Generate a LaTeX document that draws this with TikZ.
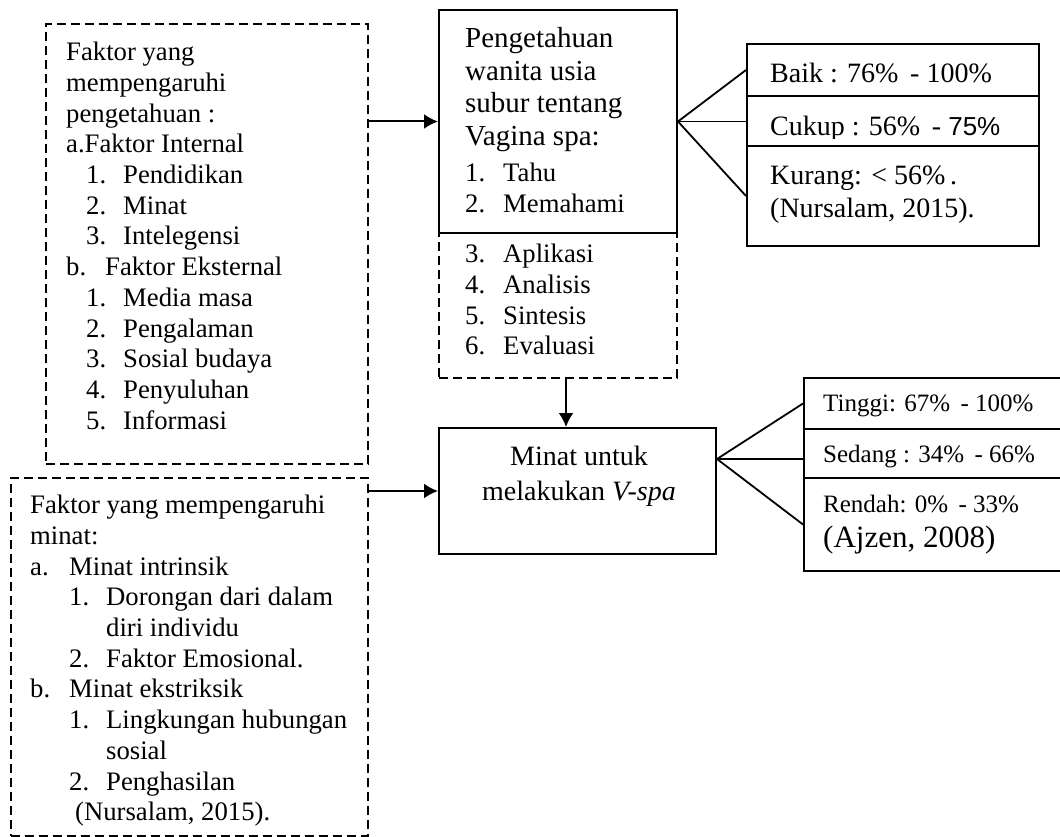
\documentclass[tikz,border=0pt]{standalone}
\usepackage{fontspec}
\setmainfont{Liberation Serif}
\newfontfamily\sansfnt{Liberation Sans}
\usetikzlibrary{arrows.meta}

% list line: indent, label width, label
\newcommand{\lst}[3]{\hspace*{#1}\makebox[#2][l]{#3}}

\begin{document}
\begin{tikzpicture}[x=1pt, y=-1pt,
    box/.style={draw, line width=2pt, anchor=north west, inner sep=0pt},
    dashbox/.style={box, dash pattern=on 9pt off 5pt},
    txt/.style={anchor=north west, inner sep=0pt, align=left, font=\fontsize{26.7}{30.7}\selectfont},
    head/.style={txt, font=\fontsize{29}{32.7}\selectfont},
    mid/.style={txt, font=\fontsize{28}{33}\selectfont},
    small/.style={txt, font=\fontsize{25}{28}\selectfont},
    arr/.style={line width=2pt, -{Latex[length=14pt, width=15pt]}},
    fan/.style={line width=1.8pt}]

    \useasboundingbox (0,0) rectangle (1060,837);

    % Left column: the two dashed boxes of factors
    \node[dashbox, minimum width=322pt, minimum height=440pt] (fbox) at (45,23) {};
    \node[dashbox, minimum width=357pt, minimum height=358pt] (mbox) at (10,477) {};

    % Middle column
    \node[dashbox, minimum width=238pt, minimum height=145pt] (tbox) at (438,232) {};
    \node[box, minimum width=238pt, minimum height=223pt] (pbox) at (438,9) {};
    \node[box, minimum width=277pt, minimum height=126pt] (ibox) at (438,427) {};

    % Right column: the two category boxes
    \node[box, minimum width=292pt, minimum height=52pt] (baik) at (746,43) {};
    \node[box, minimum width=292pt, minimum height=50pt] (cukup) at (746,95) {};
    \node[box, minimum width=292pt, minimum height=100pt] (kurang) at (746,145) {};
    \node[box, minimum width=265pt, minimum height=51pt] (tinggi) at (803,377) {};
    \node[box, minimum width=265pt, minimum height=49pt] (sedang) at (803,428) {};
    \node[box, minimum width=265pt, minimum height=93pt] (rendah) at (803,477) {};

    % Texts of the left boxes
    \node[txt] (ftext) at (66,42) {Faktor yang\\
        mempengaruhi\\
        pengetahuan :\\
        a.Faktor Internal\\
        \lst{20pt}{37pt}{1.}Pendidikan\\
        \lst{20pt}{37pt}{2.}Minat\\
        \lst{20pt}{37pt}{3.}Intelegensi\\
        \lst{0pt}{39pt}{b.}Faktor Eksternal\\
        \lst{20pt}{37pt}{1.}Media masa\\
        \lst{20pt}{37pt}{2.}Pengalaman\\
        \lst{20pt}{37pt}{3.}Sosial budaya\\
        \lst{20pt}{37pt}{4.}Penyuluhan\\
        \lst{20pt}{37pt}{5.}Informasi};
    \node[txt] (mtext) at (30,495) {Faktor yang mempengaruhi\\
        minat:\\
        \lst{0pt}{39pt}{a.}Minat intrinsik\\
        \lst{39pt}{37pt}{1.}Dorongan dari dalam\\
        \hspace*{76pt}diri individu\\
        \lst{39pt}{37pt}{2.}Faktor Emosional.\\
        \lst{0pt}{39pt}{b.}Minat ekstriksik\\
        \lst{39pt}{37pt}{1.}Lingkungan hubungan\\
        \hspace*{76pt}sosial\\
        \lst{39pt}{37pt}{2.}Penghasilan\\
        \hspace*{45pt}(Nursalam, 2015).};

    % Texts of the middle boxes
    \node[head] (ptext) at (465,27) {Pengetahuan\\
        wanita usia\\
        subur tentang\\
        Vagina spa:};
    \node[txt] (plist) at (465,163) {\lst{0pt}{38pt}{1.}Tahu\\
        \lst{0pt}{38pt}{2.}Memahami};
    \node[txt] (tlist) at (465,244) {\lst{0pt}{38pt}{3.}Aplikasi\\
        \lst{0pt}{38pt}{4.}Analisis\\
        \lst{0pt}{38pt}{5.}Sintesis\\
        \lst{0pt}{38pt}{6.}Evaluasi};
    \node[txt, anchor=north, align=center, font=\fontsize{28}{35}\selectfont] (itext) at (579,446)
        {Minat untuk\\ melakukan \textit{V-spa}};

    % Texts of the category boxes
    \node[mid] (btext) at (770,63) {Baik : 76\% \,- 100\%};
    \begin{scope}
        \clip (cukup.north west) rectangle ([yshift=8pt]cukup.south east);
        \node[mid] (ctext) at (770,116) {Cukup : 56\% \,- {\sansfnt\fontsize{26}{30}\selectfont 75\%}};
    \end{scope}
    \node[mid] (ktext) at (770,166) {Kurang: < 56\%\,.\\ (Nursalam, 2015).};
    \node[small] (ttext) at (823,395) {Tinggi: 67\% \,- 100\%};
    \node[small] (stext) at (823,445) {Sedang : 34\% \,- 66\%};
    \node[small] (rtext) at (823,495) {Rendah: 0\% \,- 33\%};
    \node[txt, font=\fontsize{31}{35}\selectfont] (atext) at (823,526) {(Ajzen, 2008)};

    % Arrows between the boxes
    \draw[arr] (fbox.east |- pbox.west) -- (pbox.west);
    \draw[arr] (mbox.east |- ibox.west) -- (ibox.west);
    \draw[arr] ([xshift=8pt]tbox.south) -- ([xshift=8pt]tbox.south |- ibox.north);

    % Fans to the categories
    \draw[fan] (baik.west) -- (pbox.east) -- (kurang.west);
    \draw[fan] (pbox.east) -- (pbox.east -| cukup.west);
    \coordinate (iapex) at ([yshift=-32pt]ibox.north east);
    \draw[fan] (tinggi.west) -- (iapex) -- (rendah.west);
    \draw[fan] (iapex) -- (iapex -| sedang.west);

\end{tikzpicture}
\end{document}
